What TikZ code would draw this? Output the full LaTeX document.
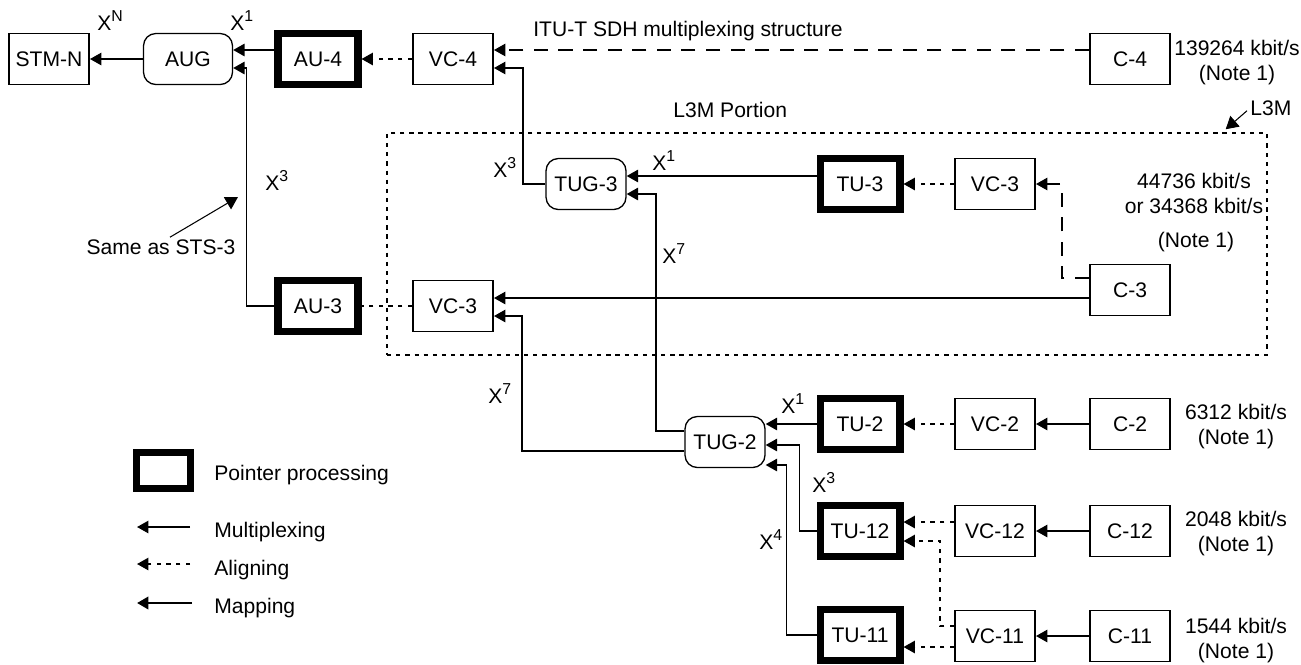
\documentclass[tikz,border=0pt]{standalone}
\usepackage{fontspec}
\setmainfont{Liberation Sans}
\usetikzlibrary{arrows.meta,calc}

\tikzset{
  sdhbox/.style={draw,line width=1.1pt,minimum width=1.6cm,minimum height=1.02cm,inner sep=0pt},
  ptrbox/.style={sdhbox,line width=4pt},
  grpbox/.style={sdhbox,line width=0.75pt,rounded corners=7pt},
  lbl/.style={inner sep=0pt},
  mux/.style={line width=1.1pt,-{Triangle[length=6.5pt,width=7pt]}},
  algn/.style={mux,dash pattern=on 2.5pt off 3pt},
  mapline/.style={mux,dash pattern=on 8pt off 6pt},
  notearrow/.style={line width=0.6pt,-{Triangle[length=7pt,width=8pt]}},
}
\newcommand{\xpow}[1]{X\raisebox{0.42em}{\fontsize{9}{9}\selectfont #1}}

\begin{document}
\begin{tikzpicture}[x=0.02cm,y=-0.02cm,font=\fontsize{12}{14}\selectfont]
  \useasboundingbox (0,0) rectangle (1301,664);

  % L3M portion
  \node[draw,line width=0.9pt,dash pattern=on 2.4pt off 2.8pt,minimum width=17.6cm,minimum height=4.44cm,inner sep=0pt] (l3m) at (827,244) {};
  \node[lbl,anchor=base west] (l3mtxt) at (673,117) {L3M Portion};
  \node[lbl,anchor=base west] (l3mlbl) at (1250,115) {L3M};
  \draw[notearrow] ($(l3mlbl.west)+(-3,3)$) -- ($(l3m.north east)+(-42,-3)$);

  % top row
  \node[sdhbox] (stm) at (49,59) {STM-N};
  \node[grpbox,minimum width=1.78cm] (aug) at (188,59) {AUG};
  \node[ptrbox] (au4) at (318,59) {AU-4};
  \node[sdhbox] (vc4) at (453,59) {VC-4};
  \node[sdhbox] (c4) at (1130,59) {C-4};
  \node[lbl,anchor=base west] (title) at (533,36) {ITU-T SDH multiplexing structure};
  \node[lbl,align=center,anchor=base] (r4) at (1237,80) {139264 kbit/s\\(Note 1)};

  % AU-3 / VC-3 / TUG-3 rows
  \node[ptrbox] (au3) at (318,306) {AU-3};
  \node[sdhbox] (vc3a) at (453,306) {VC-3};
  \node[grpbox] (tug3) at (586,184) {TUG-3};
  \node[ptrbox] (tu3) at (860,184) {TU-3};
  \node[sdhbox] (vc3b) at (995,184) {VC-3};
  \node[sdhbox] (c3) at (1130,290) {C-3};
  \node[lbl,align=center,anchor=base] (r3) at (1194,213) {44736 kbit/s\\or 34368 kbit/s};
  \node[lbl,anchor=base] (r3n) at (1196,247) {(Note 1)};

  % TUG-2 rows
  \node[grpbox] (tug2) at (725,442) {TUG-2};
  \node[ptrbox] (tu2) at (860,424) {TU-2};
  \node[sdhbox] (vc2) at (995,424) {VC-2};
  \node[sdhbox] (c2) at (1130,424) {C-2};
  \node[ptrbox] (tu12) at (860,531) {TU-12};
  \node[sdhbox] (vc12) at (995,531) {VC-12};
  \node[sdhbox] (c12) at (1130,531) {C-12};
  \node[ptrbox] (tu11) at (860,635) {TU-11};
  \node[sdhbox] (vc11) at (995,636) {VC-11};
  \node[sdhbox] (c11) at (1130,636) {C-11};
  \node[lbl,align=center,anchor=base] (r2) at (1236,444) {6312 kbit/s\\(Note 1)};
  \node[lbl,align=center,anchor=base] (r12) at (1236,551) {2048 kbit/s\\(Note 1)};
  \node[lbl,align=center,anchor=base] (r11) at (1236,658) {1544 kbit/s\\(Note 1)};

  % connectors
  \draw[mux] (aug.west) -- (stm.east);
  \draw[mux] (au4.west |- 0,50) -- (aug.east |- 0,50);
  \draw[mux] (au3.west) -- ++(-28,0) |- (aug.east |- 0,68);
  \draw[algn] (vc4.west) -- (au4.east);
  \draw[mapline] (c4.west |- 0,50) -- (vc4.east |- 0,50);
  \draw[mux] (tug3.west) -| ($(vc4.east)+(29,9)$) -- ($(vc4.east)+(0,9)$);
  \draw[mux] (tu3.west |- 0,176) -- (tug3.east |- 0,176);
  \draw[algn] (vc3b.west) -- (tu3.east);
  \draw[mapline] ($(c3.west)+(0,-12)$) -| ($(vc3b.east)+(26,0)$) -- (vc3b.east);
  \draw[mux] (c3.west |- 0,298) -- (vc3a.east |- 0,298);
  \draw[line width=1.1pt,dash pattern=on 2.5pt off 3pt] (vc3a.west) -- (au3.east);
  \draw[mux] ($(tug2.west)+(0,9)$) -| ($(vc3a.east)+(28,10)$) -- ($(vc3a.east)+(0,10)$);
  \draw[mux] ($(tug2.west)+(0,-11)$) -| ($(tug3.east)+(29,10)$) -- ($(tug3.east)+(0,10)$);
  \draw[mux] (tu2.west) -- (tug2.east |- tu2.west);
  \draw[mux] (tu12.west) -- ++(-17,0) |- ($(tug2.east)+(0,3)$);
  \draw[mux] (tu11.west) -- ++(-30,0) |- ($(tug2.east)+(0,23)$);
  \draw[algn] (vc2.west) -- (tu2.east);
  \draw[mux] (c2.west) -- (vc2.east);
  \draw[algn] ($(vc12.west)+(0,-9)$) -- ($(tu12.east)+(0,-9)$);
  \draw[algn] ($(vc11.west)+(0,-10)$) -- ++(-14,0) |- ($(tu12.east)+(0,10)$);
  \draw[algn] ($(vc11.west)+(0,11)$) -- ($(tu11.east)+(0,12)$);
  \draw[mux] (c12.west) -- (vc12.east);
  \draw[mux] (c11.west) -- (vc11.east);

  % multiplexing factors
  \node[lbl,anchor=base west] at (97,30) {\xpow{N}};
  \node[lbl,anchor=base west] at (230,30) {\xpow{1}};
  \node[lbl,anchor=base west] at (265,190) {\xpow{3}};
  \node[lbl,anchor=base west] at (493,177) {\xpow{3}};
  \node[lbl,anchor=base west] at (652,170) {\xpow{1}};
  \node[lbl,anchor=base west] at (662,263) {\xpow{7}};
  \node[lbl,anchor=base west] at (488,403) {\xpow{7}};
  \node[lbl,anchor=base west] at (781,413) {\xpow{1}};
  \node[lbl,anchor=base west] at (812,492) {\xpow{3}};
  \node[lbl,anchor=base west] at (759,549) {\xpow{4}};

  \node[lbl] (sts) at (161,247) {Same as STS-3};
  \coordinate (ststip) at (238,197);
  \draw[notearrow] ($(sts.north)+(9,-2)$) -- (ststip);

  % legend
  \node[ptrbox,minimum width=1.08cm,minimum height=0.72cm] (lgptr) at (163.5,470.5) {};
  \node[lbl,anchor=base west] (lgptrtxt) at (214,480) {Pointer processing};
  \node[lbl,anchor=base west] (lgmux) at (214,537) {Multiplexing};
  \node[lbl,anchor=base west] (lgalgn) at (214,575) {Aligning};
  \node[lbl,anchor=base west] (lgmap) at (214,613) {Mapping};
  \draw[mux] ($(lgmux.west |- 0,527)+(-24,0)$) -- ++(-53,0);
  \draw[algn] ($(lgalgn.west |- 0,564)+(-24,0)$) -- ++(-53,0);
  \draw[mux,line width=1.6pt] ($(lgmap.west |- 0,603)+(-22,0)$) -- ++(-55,0);
\end{tikzpicture}
\end{document}
